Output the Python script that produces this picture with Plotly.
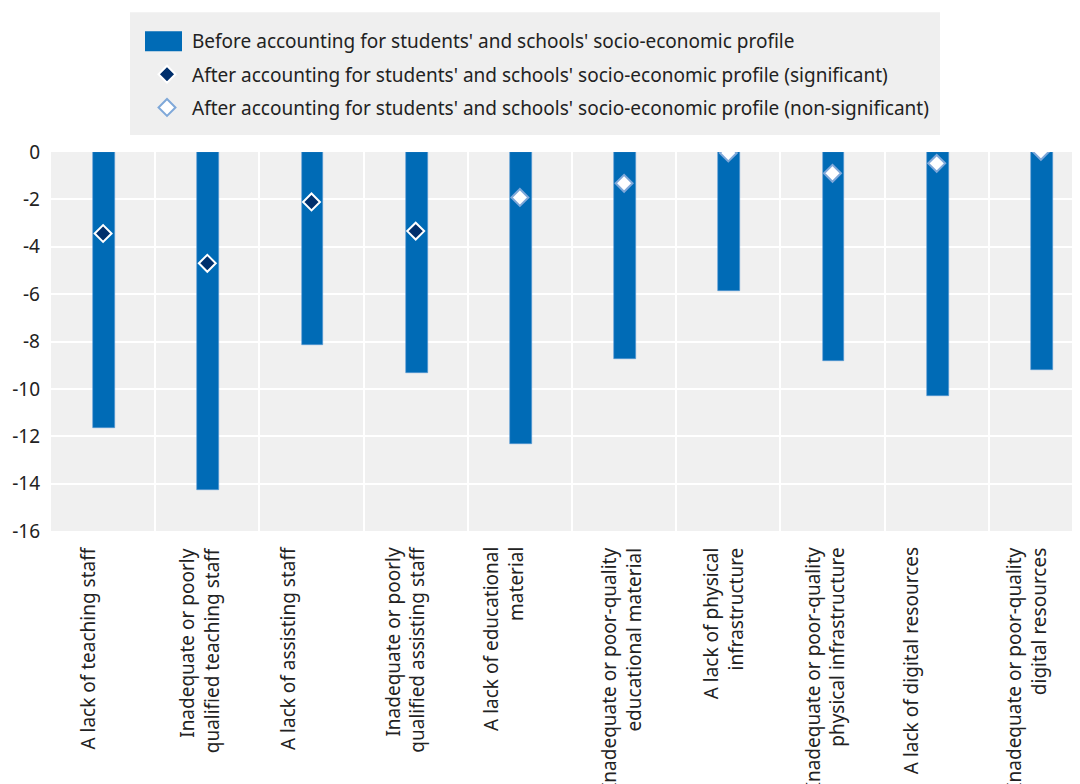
import plotly.graph_objects as go

categories = [
    "A lack of teaching staff",
    "Inadequate or poorly<br>qualified teaching staff",
    "A lack of assisting staff",
    "Inadequate or poorly<br>qualified assisting staff",
    "A lack of educational<br>material",
    "Inadequate or poor-quality<br>educational material",
    "A lack of physical<br>infrastructure",
    "Inadequate or poor-quality<br>physical infrastructure",
    "A lack of digital resources",
    "Inadequate or poor-quality<br>digital resources",
]
before_values = [-11.67, -14.26, -8.14, -9.31, -12.33, -8.74, -5.87, -8.81, -10.32, -9.22]
after_significant = [-3.44, -4.70, -2.11, -3.34, None, None, None, None, None, None]
after_nonsignificant = [None, None, None, None, -1.92, -1.32, -0.04, -0.90, -0.48, 0.03]
y_ticks = [0, -2, -4, -6, -8, -10, -12, -14, -16]

# style: horizontal pixel nudge of each category label (rotated text)
label_dx = [-16, -8, -24, -11, -17, -3, -5, -8, -26, -15]

FONT = "Noto Sans, Open Sans, sans-serif"
FS = 19
# page body has an 8px margin, so the figure is drawn 8px in from the window edge
OFF = 8
W, H = 1080 - OFF, 784 - OFF
ml, mt = 51 - OFF, 152 - OFF
plot_h = 379.5
mb = H - mt - plot_h
plot_w = W - ml


def px(fx):
    return (fx - OFF - ml) / plot_w


def py(fy):
    return 1 + (mt - (fy - OFF)) / plot_h


BAR_NAME = "Before accounting for students' and schools' socio-economic profile"
SIG_NAME = "After accounting for students' and schools' socio-economic profile (significant)"
NS_NAME = "After accounting for students' and schools' socio-economic profile (non-significant)"

fig = go.Figure()
fig.add_trace(go.Bar(
    x=list(range(len(categories))), y=before_values,
    name=BAR_NAME, showlegend=False,
    marker=dict(color="#006bb6", line=dict(color="#5b9bd5", width=0.6)),
    width=0.21, offset=-0.095,
))
# legend entry for bars (swatch drawn as a shape)
fig.add_trace(go.Scatter(
    x=[None], y=[None], mode="markers", name=BAR_NAME, legendgroup="a",
    marker=dict(symbol="square", size=12, color="rgba(0,0,0,0)"),
))
fig.add_trace(go.Scatter(
    x=list(range(len(categories))), y=after_significant, mode="markers",
    name=SIG_NAME, legendgroup="b",
    marker=dict(symbol="diamond", size=13, color="#002f6c", line=dict(color="white", width=2)),
))
fig.add_trace(go.Scatter(
    x=list(range(len(categories))), y=after_nonsignificant, mode="markers",
    name=NS_NAME, legendgroup="c",
    marker=dict(symbol="diamond", size=13, color="white", line=dict(color="#7fa8d9", width=2)),
))

shapes = [
    # legend background
    dict(type="rect", xref="paper", yref="paper", layer="below",
         x0=px(130), x1=px(940), y0=py(135), y1=py(12),
         fillcolor="#efefef", line=dict(width=0)),
    # bar legend swatch
    dict(type="rect", xref="paper", yref="paper", layer="above",
         x0=px(145), x1=px(182), y0=py(51), y1=py(31),
         fillcolor="#006bb6", line=dict(width=0)),
]

annotations = []
for i, lab in enumerate(categories):
    annotations.append(dict(
        x=i, xref="x", y=0, yref="paper",
        text=lab, textangle=-90, showarrow=False,
        xanchor="center", yanchor="top", align="right",
        xshift=label_dx[i], yshift=-14,
        font=dict(family=FONT, size=FS, color="#222222"),
    ))

fig.update_layout(
    width=W, height=H,
    margin=dict(l=ml, r=0, t=mt, b=mb, pad=0, autoexpand=False),
    paper_bgcolor="white",
    plot_bgcolor="#f0f0f0",
    font=dict(family=FONT, size=FS, color="#222222"),
    bargap=0,
    showlegend=True,
    shapes=shapes,
    annotations=annotations,
    legend=dict(
        x=px(142), xanchor="left",
        y=py(22), yanchor="top",
        bgcolor="rgba(0,0,0,0)",
        font=dict(family=FONT, size=FS, color="#222222"),
        itemwidth=40,
        borderwidth=0,
        tracegroupgap=5.5,
        traceorder="grouped",
    ),
    xaxis=dict(
        type="linear",
        range=[-0.5, -0.5 + plot_w / 104.2],
        tickvals=[i + 0.5 for i in range(len(categories))],
        showticklabels=False,
        showgrid=True, gridcolor="white", gridwidth=2,
        ticks="", showline=False, zeroline=False,
        automargin=False,
    ),
    yaxis=dict(
        range=[-16, 0],
        tickvals=y_ticks,
        ticktext=[str(v) for v in y_ticks],
        showgrid=True, gridcolor="white", gridwidth=2,
        zeroline=False, showline=False, ticks="",
        ticklabelstandoff=10,
        automargin=False,
        tickfont=dict(family=FONT, size=FS, color="#222222"),
    ),
)

fig.write_html("out.html")
